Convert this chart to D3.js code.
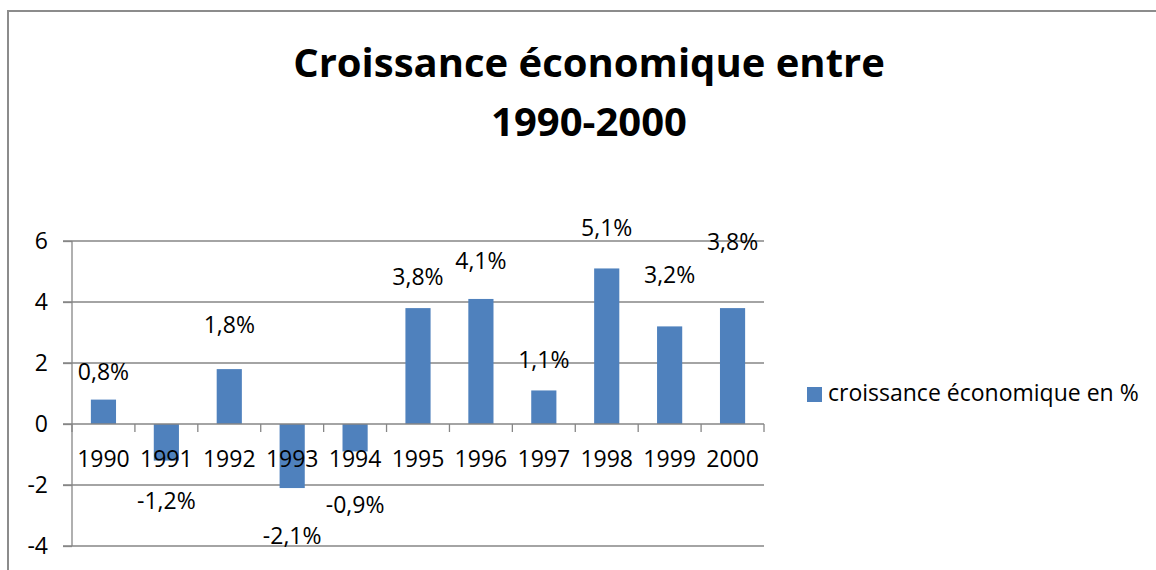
<!DOCTYPE html>
<html>
<head>
<meta charset="utf-8">
<script src="https://cdn.jsdelivr.net/npm/d3@7"></script>
<style>
  body { margin: 0; background: #fff; }
  text { font-family: "Open Sans", sans-serif; fill: #000; }
</style>
</head>
<body>
<div id="chart"></div>
<script>
// data
const years = ["1990", "1991", "1992", "1993", "1994", "1995", "1996", "1997", "1998", "1999", "2000"];
const growth = [0.8, -1.2, 1.8, -2.1, -0.9, 3.8, 4.1, 1.1, 5.1, 3.2, 3.8];
const growthLabels = ["0,8%", "-1,2%", "1,8%", "-2,1%", "-0,9%", "3,8%", "4,1%", "1,1%", "5,1%", "3,2%", "3,8%"];
// where each label sits, in axis units (placed by hand in the original)
const labelAt = [1.43, -2.8, 2.97, -3.92, -2.93, 4.57, 5.07, 1.85, 6.18, 4.61, 5.69];
const yTicks = [-4, -2, 0, 2, 4, 6];
const titleLines = ["Croissance économique entre", "1990-2000"];
const seriesName = "croissance économique en %";

const W = 1156, H = 570;
const margin = {top: 241, right: 392, bottom: 24, left: 72},
    width = W - margin.left - margin.right,
    height = H - margin.top - margin.bottom;

const svgRoot = d3.select("#chart")
  .append("svg")
    .attr("width", W)
    .attr("height", H);

// chart border (right and bottom run off the picture)
svgRoot.append("rect")
  .attr("x", 8).attr("y", 11)
  .attr("width", W + 20).attr("height", H + 20)
  .attr("fill", "none")
  .attr("stroke", "#8c8c8c")
  .attr("stroke-width", 2);

// title
svgRoot.append("text")
  .attr("text-anchor", "middle")
  .style("font-size", "40px")
  .style("font-weight", "bold")
  .selectAll("tspan")
  .data(titleLines)
  .join("tspan")
    .attr("x", 589)
    .attr("y", (d, i) => 77 + i * 59)
    .text(d => d);

const svg = svgRoot.append("g")
  .attr("transform", "translate(" + margin.left + "," + margin.top + ")");

const x = d3.scaleBand()
  .domain(years)
  .range([0, width])
  .paddingInner(0.6)
  .paddingOuter(0.3);

const y = d3.scaleLinear()
  .domain([-4, 6])
  .range([height, 0]);

const axisColor = "#868686";
const fontSize = "23px";

// gridlines
svg.append("g")
  .selectAll("line")
  .data(yTicks.filter(d => d !== 0))
  .join("line")
    .attr("x1", -9).attr("x2", width)
    .attr("y1", d => y(d)).attr("y2", d => y(d))
    .attr("stroke", axisColor)
    .attr("stroke-width", 1.3);

// bars
svg.append("g")
  .selectAll("rect")
  .data(growth)
  .join("rect")
    .attr("x", (d, i) => x(years[i]))
    .attr("width", x.bandwidth())
    .attr("y", d => y(Math.max(0, d)))
    .attr("height", d => Math.abs(y(d) - y(0)))
    .attr("fill", "#4f81bd");

// y axis
const yAxis = svg.append("g")
  .call(d3.axisLeft(y).tickValues(yTicks).tickSize(9).tickPadding(15).tickFormat(d => String(d)));
yAxis.selectAll("line, path").attr("stroke", axisColor).attr("stroke-width", 1.3);
yAxis.select("path").attr("d", `M0,${y(-4)}V${y(6)}`);
yAxis.selectAll("text")
  .style("font-size", fontSize)
  .style("font-family", "'Open Sans', sans-serif")
  .attr("fill", "#000");

// x axis sitting on zero, ticks at category boundaries
const step = x.step();
const zx = svg.append("g").attr("transform", `translate(0,${y(0)})`);
zx.append("line")
  .attr("x1", -9).attr("x2", width)
  .attr("stroke", axisColor).attr("stroke-width", 1.3);
zx.selectAll(".bound")
  .data(d3.range(years.length + 1))
  .join("line")
    .attr("class", "bound")
    .attr("x1", i => x(years[0]) - step * 0.3 + i * step)
    .attr("x2", i => x(years[0]) - step * 0.3 + i * step)
    .attr("y1", 0).attr("y2", 8)
    .attr("stroke", axisColor).attr("stroke-width", 1.3);
zx.selectAll(".cat")
  .data(years)
  .join("text")
    .attr("class", "cat")
    .attr("x", d => x(d) + x.bandwidth() / 2)
    .attr("y", 43)
    .attr("text-anchor", "middle")
    .style("font-size", fontSize)
    .text(d => d);

// data labels
svg.append("g")
  .selectAll("text")
  .data(growthLabels)
  .join("text")
    .attr("x", (d, i) => x(years[i]) + x.bandwidth() / 2)
    .attr("y", (d, i) => y(labelAt[i]))
    .attr("text-anchor", "middle")
    .style("font-size", fontSize)
    .text(d => d);

// legend
const legend = svgRoot.append("g").attr("transform", "translate(807,387)");
legend.append("rect")
  .attr("width", 15).attr("height", 15)
  .attr("fill", "#4f81bd");
legend.append("text")
  .attr("x", 21).attr("y", 14)
  .style("font-size", fontSize)
  .text(seriesName);
</script>
</body>
</html>
